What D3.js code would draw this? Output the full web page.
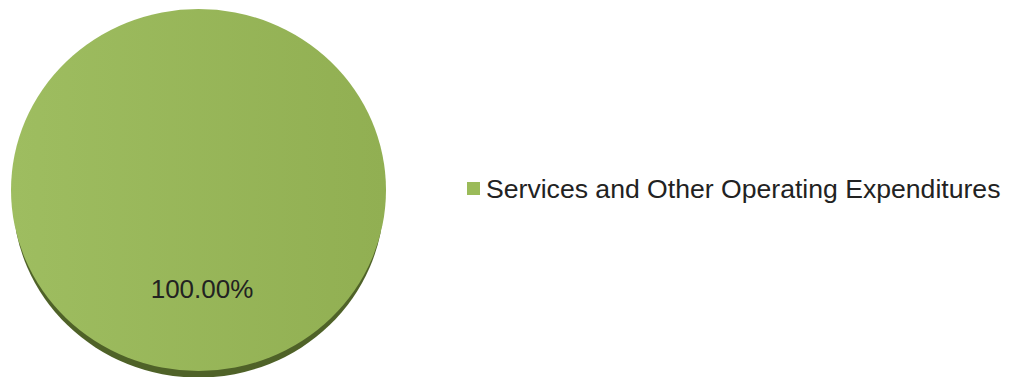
<!DOCTYPE html>
<html>
<head>
<meta charset="utf-8">
<script src="https://cdn.jsdelivr.net/npm/d3@7"></script>
<style>
  html, body { margin: 0; padding: 0; background: #fff; }
  svg { display: block; }
  text { font-family: "Liberation Sans", Arial, sans-serif; fill: #222; }
</style>
</head>
<body>
<div id="chart"></div>
<script>
const categories = ['Services and Other Operating Expenditures'];
const values = [100];
const colors = ['#9bbb59'];
const sideColors = ['#4f6228'];

const width = 1009;
const height = 377;

const svg = d3.select('#chart').append('svg')
  .attr('width', width)
  .attr('height', height);

const defs = svg.append('defs');
const grad = defs.append('linearGradient')
  .attr('id', 'topGrad')
  .attr('x1', '0%').attr('x2', '100%')
  .attr('y1', '0%').attr('y2', '0%');
grad.append('stop').attr('offset', '0%').attr('stop-color', '#9ebd60');
grad.append('stop').attr('offset', '100%').attr('stop-color', '#91af52');

// pie laid flat, squashed a bit to look tilted
const cx = 198.5, cy = 190;
const rx = 187.5, ry = 181;
const depth = 8.5;

const pie = d3.pie().sort(null).value(d => d);
const arcs = pie(values);
const arc = d3.arc().innerRadius(0).outerRadius(rx);
// side is drawn a touch narrower so it only shows along the bottom
const sideArc = d3.arc().innerRadius(0).outerRadius(rx - 2);

svg.append('g')
  .attr('transform', `translate(${cx},${cy + depth}) scale(1,${ry / rx})`)
  .selectAll('path')
  .data(arcs)
  .enter()
  .append('path')
  .attr('d', sideArc)
  .attr('fill', (d, i) => sideColors[i]);

// top face
svg.append('g')
  .attr('transform', `translate(${cx},${cy}) scale(1,${ry / rx})`)
  .selectAll('path')
  .data(arcs)
  .enter()
  .append('path')
  .attr('d', arc)
  .attr('fill', 'url(#topGrad)');

// label
const total = d3.sum(values);
svg.selectAll('text.pct')
  .data(arcs)
  .enter()
  .append('text')
  .attr('class', 'pct')
  .attr('x', 202)
  .attr('y', 298)
  .attr('text-anchor', 'middle')
  .style('font-size', '26px')
  .text(d => (d.data / total * 100).toFixed(2) + '%');

// legend
const legend = svg.append('g').attr('transform', 'translate(467,182)');
const items = legend.selectAll('g')
  .data(categories)
  .enter()
  .append('g')
  .attr('transform', (d, i) => `translate(0,${i * 30})`);
items.append('rect')
  .attr('width', 13)
  .attr('height', 13)
  .attr('fill', (d, i) => colors[i]);
items.append('text')
  .attr('x', 19)
  .attr('y', 15.5)
  .style('font-size', '26.6px')
  .text(d => d);
</script>
</body>
</html>
